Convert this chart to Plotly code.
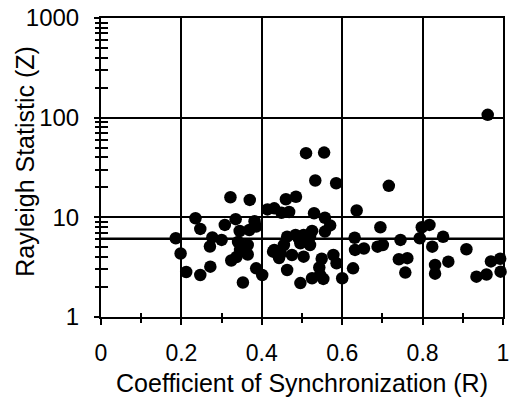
import plotly.graph_objects as go

# Coefficient of synchronization (R) and Rayleigh statistic (Z)
R = [0.186, 0.198, 0.212, 0.247, 0.235, 0.247, 0.272, 0.322, 0.370, 0.277,
     0.300, 0.271, 0.308, 0.335, 0.382, 0.345, 0.369, 0.386, 0.341, 0.365,
     0.346, 0.365, 0.324, 0.337, 0.386, 0.401, 0.353, 0.414, 0.431, 0.460,
     0.485, 0.449, 0.468, 0.428, 0.443, 0.447, 0.431, 0.463, 0.496, 0.455,
     0.463, 0.484, 0.475, 0.504,
     0.510, 0.555, 0.533, 0.585, 0.530, 0.557, 0.570, 0.557, 0.525, 0.504,
     0.492, 0.520, 0.512, 0.520, 0.496, 0.549, 0.578, 0.586, 0.543, 0.545,
     0.525, 0.553, 0.600, 0.627, 0.636, 0.631, 0.632, 0.654, 0.688, 0.701,
     0.695, 0.716, 0.745, 0.741, 0.762, 0.757,
     0.793, 0.798, 0.817, 0.824, 0.851, 0.864, 0.831, 0.831, 0.909, 0.934,
     0.959, 0.970, 0.993, 0.994, 0.962]
Z = [6.17, 4.34, 2.83, 2.64, 9.79, 7.65, 3.20, 15.9, 14.95, 6.29,
     5.93, 5.10, 8.39, 9.59, 9.16, 7.30, 7.47, 8.07, 5.66, 5.28,
     4.71, 4.24, 3.69, 4.00, 3.08, 2.64, 2.22, 12.0, 12.3, 15.2,
     16.1, 11.1, 11.3, 4.52, 3.91, 4.36, 4.71, 2.96, 2.19, 5.28,
     6.40, 6.66, 4.19, 4.03,
     44.0, 44.6, 23.4, 22.0, 11.0, 9.91, 8.29, 7.19, 7.30, 6.66,
     6.17, 6.40, 5.93, 5.28, 5.50, 3.84, 4.19, 3.46, 3.14, 2.64,
     2.45, 2.41, 2.45, 3.08, 11.7, 6.24, 4.71, 4.87, 5.08, 5.28,
     7.96, 20.7, 5.93, 3.80, 3.89, 2.79,
     6.17, 7.96, 8.39, 5.08, 6.39, 3.59, 3.33, 2.72, 4.78, 2.54,
     2.67, 3.61, 3.84, 2.85, 106.7]

THRESHOLD = 6.1
X_TICKS = [0, 0.2, 0.4, 0.6, 0.8, 1]
X_TICK_LABELS = ["0", "0.2", "0.4", "0.6", "0.8", "1"]
Y_TICKS = [1, 10, 100, 1000]
Y_TICK_LABELS = ["1", "10", "100", "1000"]
X_MINOR = [0.1, 0.3, 0.5, 0.7, 0.9]
Y_MINOR = [m * d for d in (1, 10, 100) for m in range(2, 10)]
Y_TITLE = "Rayleigh Statistic (Z)"
X_TITLE = "Coefficient of Synchronization (R)"

FONT = "Liberation Sans, Arial, sans-serif"

fig = go.Figure()
fig.add_trace(go.Scatter(
    x=R, y=Z, mode="markers",
    marker=dict(color="black", size=12.5, line=dict(width=0)),
    showlegend=False, cliponaxis=False))
# dummy trace for overlay axes (inner halves of the crossing ticks)
fig.add_trace(go.Scatter(x=[None], y=[None], xaxis="x2", yaxis="y2",
                         showlegend=False, hoverinfo="skip"))

fig.add_hline(y=THRESHOLD, line=dict(color="black", width=2.5), layer="below")

fig.add_annotation(text=Y_TITLE, xref="paper", yref="paper", x=-0.191, y=0.52,
                   xanchor="center", yanchor="middle", textangle=-90,
                   showarrow=False, font=dict(size=25))

fig.update_layout(
    width=511, height=403,
    margin=dict(l=101, r=2, t=18, b=86),
    paper_bgcolor="white", plot_bgcolor="white",
    font=dict(family=FONT, color="black", size=24),
    xaxis=dict(
        range=[0, 1], tickvals=X_TICKS, ticktext=X_TICK_LABELS,
        ticks="outside", ticklen=6, tickwidth=1.5, tickcolor="black",
        minor=dict(tickvals=X_MINOR, ticks="outside", ticklen=4, tickwidth=1.5,
                   tickcolor="black", showgrid=False),
        showgrid=True, gridcolor="black", gridwidth=1.5,
        showline=True, linecolor="black", linewidth=2, mirror=True,
        zeroline=False, ticklabelstandoff=8, ticklabeloverflow="allow",
        tickfont=dict(size=23),
        title=dict(text=X_TITLE, font=dict(size=25), standoff=10),
    ),
    yaxis=dict(
        type="log", range=[0, 3], tickvals=Y_TICKS, ticktext=Y_TICK_LABELS,
        ticks="outside", ticklen=5, tickwidth=1.5, tickcolor="black",
        minor=dict(tickvals=Y_MINOR, ticks="outside", ticklen=4, tickwidth=1.5,
                   tickcolor="black", showgrid=False),
        showgrid=True, gridcolor="black", gridwidth=1.5,
        showline=True, linecolor="black", linewidth=2, mirror=True,
        zeroline=False, ticklabelstandoff=10,
        tickfont=dict(size=24),
    ),
    xaxis2=dict(
        overlaying="x", anchor="y", side="bottom", range=[0, 1],
        tickvals=X_MINOR, ticks="inside", ticklen=4, tickwidth=1.5,
        tickcolor="black", showticklabels=False, showgrid=False,
        showline=False, zeroline=False),
    yaxis2=dict(
        overlaying="y", anchor="x", side="left", type="log", range=[0, 3],
        tickvals=Y_MINOR, ticks="inside", ticklen=7, tickwidth=1.5,
        tickcolor="black", showticklabels=False, showgrid=False,
        showline=False, zeroline=False),
)

fig.write_html("out.html")
